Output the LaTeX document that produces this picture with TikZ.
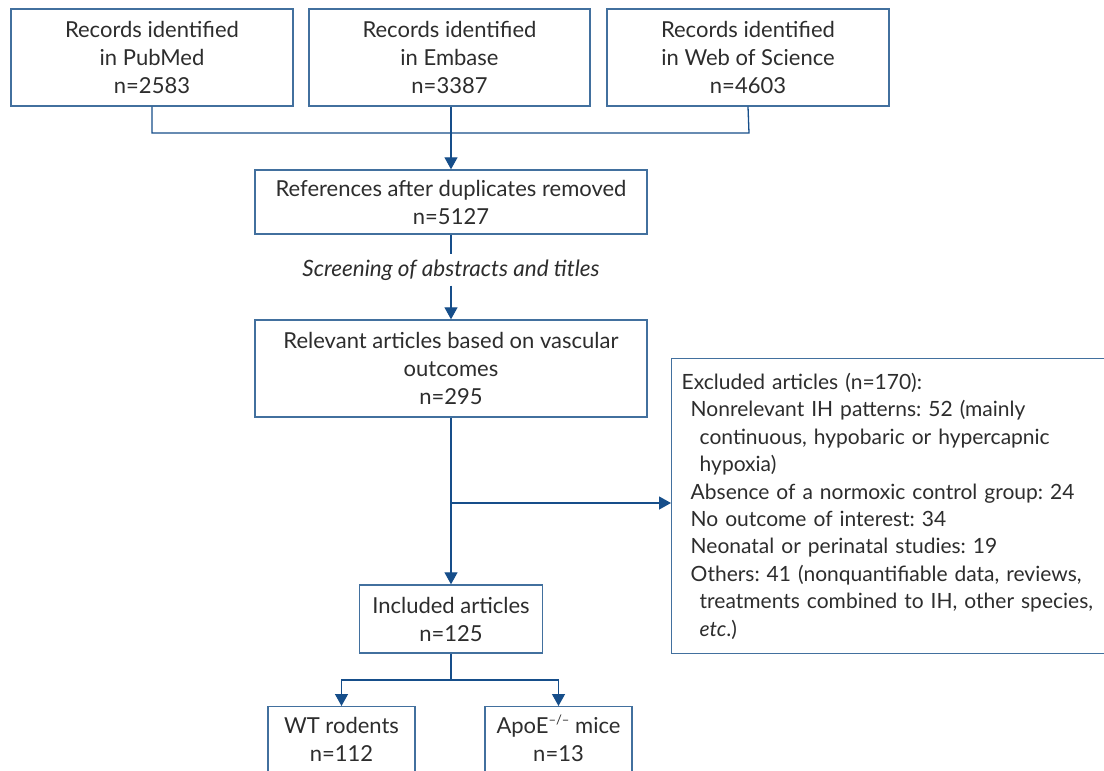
\documentclass[tikz,border=0pt]{standalone}
\usepackage{fontspec}
\setmainfont{Lato}
\usetikzlibrary{arrows.meta,calc}
\definecolor{boxc}{RGB}{66,112,158}
\definecolor{linec}{RGB}{22,78,138}
\definecolor{txtc}{RGB}{45,45,45}
\frenchspacing
\tikzset{
  fbox/.style={draw=boxc, line width=1.4pt, text=txtc, align=center, inner sep=0pt,
    font=\fontsize{22}{28}\selectfont},
  lbl/.style={text=txtc, align=center, inner sep=0pt, font=\fontsize{22}{28}\selectfont},
  conn/.style={draw=linec, line width=1.3pt},
  arr/.style={conn, -{Triangle[width=13pt,length=12pt]}},
}
\begin{document}
\begin{tikzpicture}[x=1pt,y=-1pt]
\clip (0,0) rectangle (1104,771);
\fill[white] (0,0) rectangle (1104,771);
% top row
\node[fbox, minimum width=282pt, minimum height=97pt] (pub) at (152,57.5) {Records identified\\in PubMed\\n=2583};
\node[fbox, minimum width=281pt, minimum height=97pt] (emb) at (449.5,57.5) {Records identified\\in Embase\\n=3387};
\node[fbox, minimum width=282pt, minimum height=97pt] (wos) at (748,57.5) {Records identified\\in Web of Science\\n=4603};
\node[fbox, minimum width=392pt, minimum height=64pt] (ref) at (451,202) {References after duplicates removed\\n=5127};
\node[text=txtc, font=\fontsize{22.5}{28}\selectfont\itshape, inner xsep=0pt, inner ysep=5pt] (scr) at (451,270) {Screening of abstracts and titles};
\node[fbox, minimum width=392pt, minimum height=97pt] (rel) at (451,368.5) {Relevant articles based on vascular\\outcomes\\n=295};
\node[fbox, minimum width=460pt, minimum height=295pt, anchor=north west, align=left, text width=440pt, inner xsep=10pt,
  font=\fontsize{21}{27.4}\selectfont] (exc) at (671,358) {Excluded articles (n=170):\\
\hspace*{9pt}Nonrelevant IH patterns: 52 (mainly\\
\hspace*{18pt}continuous, hypobaric or hypercapnic\\
\hspace*{18pt}hypoxia)\\
\hspace*{9pt}Absence of a normoxic control group: 24\\
\hspace*{9pt}No outcome of interest: 34\\
\hspace*{9pt}Neonatal or perinatal studies: 19\\
\hspace*{9pt}Others: 41 (nonquantifiable data, reviews,\\
\hspace*{18pt}treatments combined to IH, other species,\\
\hspace*{18pt}\textit{etc}.)};
\node[fbox, minimum width=183pt, minimum height=68pt] (inc) at (451,619) {Included articles\\n=125};
\node[fbox, minimum width=147pt, minimum height=100pt, anchor=north] (wt) at (341.5,706) {};
\node[fbox, minimum width=147pt, minimum height=100pt, anchor=north] (apo) at (558.5,706) {};
\node[lbl, anchor=north] (wtt) at (341.5,717) {WT rodents\\n=112};
\node[lbl, anchor=north] (apot) at (558.5,717) {ApoE\smash{\raisebox{9pt}{\fontsize{13}{13}\selectfont –/–}} mice\\n=13};
% connectors
\coordinate (j1) at (152,133);
\coordinate (j2) at (451,133);
\coordinate (j3) at (749,133);
\draw[conn] (pub.south) -- (j1) -- (j3) -- (wos.south);
\draw[arr] (j2 |- emb.south) -- (ref.north);
\draw[conn] (ref.south) -- (scr.north);
\draw[arr] (scr.south) -- (rel.north);
\draw[arr] (rel.south) -- (rel.south |- inc.north);
\coordinate (br) at (451,503);
\draw[arr] (br) -- (br -| exc.west);
\coordinate (k) at (451,680);
\draw[conn] (inc.south) -- (k);
\draw[arr] (k) -| (wt.north);
\draw[arr] (k) -| (apo.north);
\end{tikzpicture}
\end{document}
